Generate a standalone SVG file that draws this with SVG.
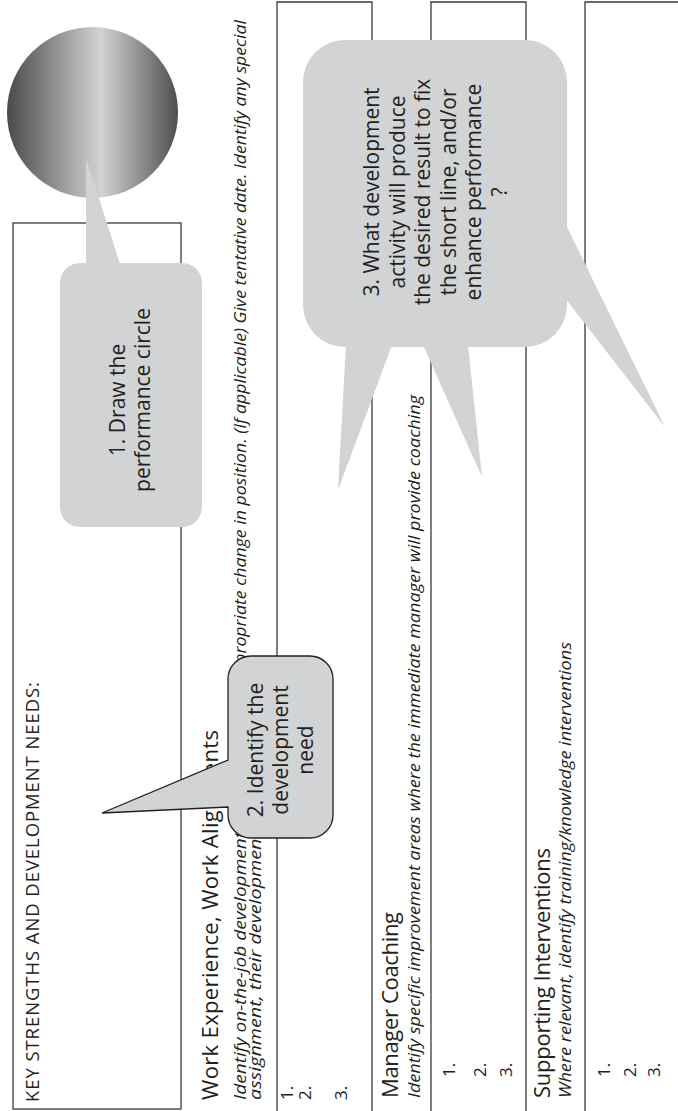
<svg xmlns="http://www.w3.org/2000/svg" width="678" height="1111" viewBox="0 0 678 1111">
<style>
.box{fill:none;stroke:#3a3a3a;stroke-width:1.3}
.callout{fill:#d1d3d4}
.t{font-family:"Open Sans","Liberation Sans",sans-serif;fill:#231f20}
.title{font-size:22px}
.it{font-size:16.5px;font-style:italic}
.caps{font-size:18.5px}
.num{font-size:17px}
.co{font-size:21px;text-anchor:middle}
</style>
<defs>
<linearGradient id="g1" x1="0" y1="0" x2="1" y2="0">
<stop offset="0" stop-color="#4a4a4a"/>
<stop offset="0.55" stop-color="#d3d3d5"/>
<stop offset="1" stop-color="#4e4e4e"/>
</linearGradient>
</defs>
<rect width="678" height="1111" fill="#ffffff"/>
<g id="key-strengths">
<rect class="box" x="13" y="223" width="168" height="886"/>
<text class="t caps" transform="translate(39,1102) rotate(-90)" textLength="420" lengthAdjust="spacing">KEY STRENGTHS AND DEVELOPMENT NEEDS:</text>
</g>
<g id="work-experience">
<path class="box" d="M277,1115 V2 H372 V1115"/>
<text class="t title" transform="translate(218,1100) rotate(-90)" textLength="370" lengthAdjust="spacing">Work Experience, Work Alignments</text>
<text class="t it" transform="translate(246,1100) rotate(-90)" textLength="268" lengthAdjust="spacingAndGlyphs">Identify on-the-job development</text>
<text class="t it" transform="translate(246,684) rotate(-90)" textLength="664" lengthAdjust="spacingAndGlyphs">appropriate change in position. (If applicable) Give tentative date. Identify any special</text>
<text class="t it" transform="translate(261,1100) rotate(-90)" textLength="268" lengthAdjust="spacingAndGlyphs">assignment, their development</text>
<text class="t num" transform="translate(293,1100) rotate(-90)">1.</text>
<text class="t num" transform="translate(311,1100) rotate(-90)">2.</text>
<text class="t num" transform="translate(347,1100) rotate(-90)">3.</text>
</g>
<g id="manager-coaching">
<path class="box" d="M431,1115 V2 H526 V1115"/>
<text class="t title" transform="translate(398,1098) rotate(-90)" textLength="186" lengthAdjust="spacing">Manager Coaching</text>
<text class="t it" transform="translate(420,1098) rotate(-90)" textLength="703" lengthAdjust="spacingAndGlyphs">Identify specific improvement areas where the immediate manager will provide coaching</text>
<text class="t num" transform="translate(455,1077) rotate(-90)">1.</text>
<text class="t num" transform="translate(486,1077) rotate(-90)">2.</text>
<text class="t num" transform="translate(512,1077) rotate(-90)">3.</text>
</g>
<g id="supporting-interventions">
<path class="box" d="M585,1115 V2 H680"/>
<text class="t title" transform="translate(550,1098) rotate(-90)" textLength="250" lengthAdjust="spacing">Supporting Interventions</text>
<text class="t it" transform="translate(571,1098) rotate(-90)" textLength="456" lengthAdjust="spacingAndGlyphs">Where relevant, identify training/knowledge interventions</text>
<text class="t num" transform="translate(610,1077) rotate(-90)">1.</text>
<text class="t num" transform="translate(636,1077) rotate(-90)">2.</text>
<text class="t num" transform="translate(660,1077) rotate(-90)">3.</text>
</g>
<g id="performance-circle">
<circle cx="92.5" cy="112.5" r="85.5" fill="url(#g1)"/>
</g>
<g id="connectors"></g>
<g id="callout-1">
<rect class="callout" x="60" y="263" width="142" height="264" rx="20"/>
<polygon class="callout" points="86,264 86,158 120,264"/>
<text class="t co" transform="translate(125,400) rotate(-90)">1. Draw the</text>
<text class="t co" transform="translate(150,400) rotate(-90)">performance circle</text>
</g>
<g id="callout-3">
<rect class="callout" x="303" y="40" width="264" height="307" rx="42"/>
<polygon class="callout" points="346,345 338,490 392,345"/>
<polygon class="callout" points="423,345 482,477 468,345"/>
<polygon class="callout" points="565,223 665,427 565,298"/>
<text class="t co" transform="translate(379,192) rotate(-90)">3. What development</text>
<text class="t co" transform="translate(404.5,192) rotate(-90)">activity will produce</text>
<text class="t co" transform="translate(430,192) rotate(-90)">the desired result to fix</text>
<text class="t co" transform="translate(455.5,192) rotate(-90)">the short line, and/or</text>
<text class="t co" transform="translate(481,192) rotate(-90)">enhance performance</text>
<text class="t co" transform="translate(506.5,192) rotate(-90)">?</text>
</g>
<g id="callout-2">
<path class="callout" d="M251,656 H310 A23,23 0 0 1 333,679 V815 A23,23 0 0 1 310,838 H251 A23,23 0 0 1 228,815 V807 L102,813 L228,760 V679 A23,23 0 0 1 251,656 Z" stroke="#231f20" stroke-width="1.3"/>
<text class="t co" transform="translate(263,750) rotate(-90)">2. Identify the</text>
<text class="t co" transform="translate(288,750) rotate(-90)">development</text>
<text class="t co" transform="translate(313,750) rotate(-90)">need</text>
</g>
</svg>
